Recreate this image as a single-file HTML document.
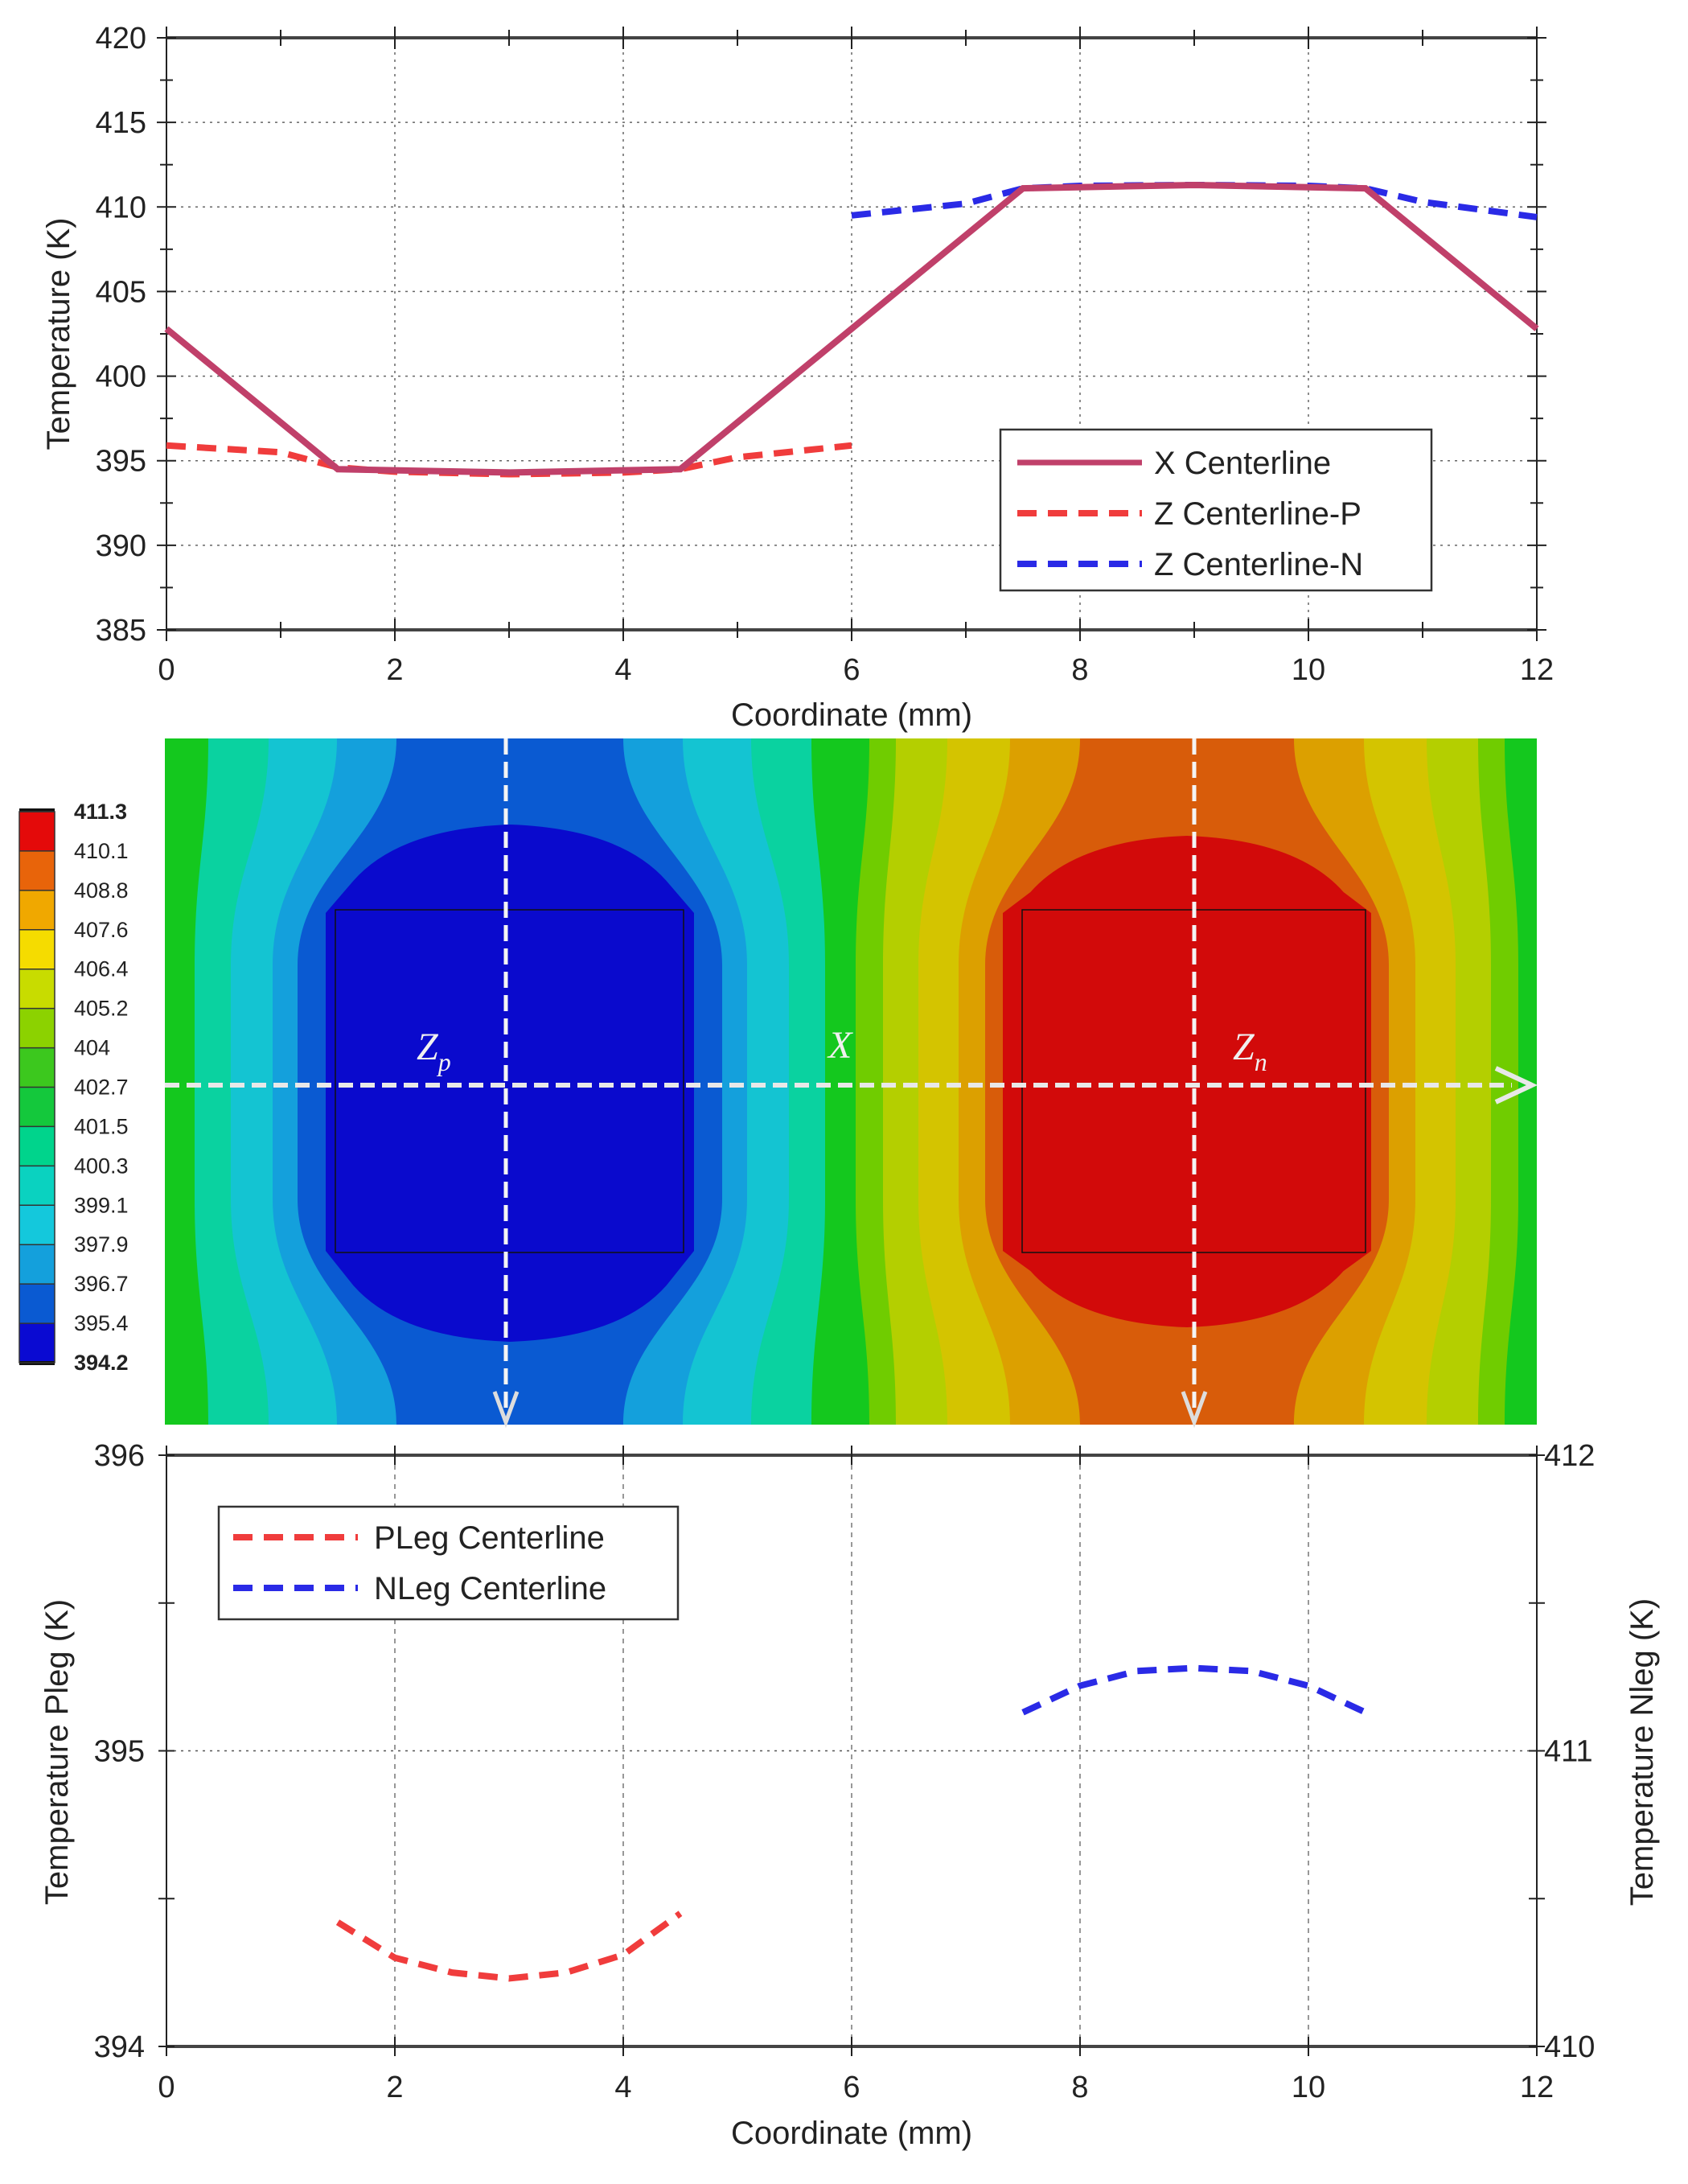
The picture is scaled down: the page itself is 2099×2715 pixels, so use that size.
<!DOCTYPE html>
<html><head><meta charset="utf-8"><style>
html,body{margin:0;padding:0;background:#fff;}
svg{display:block;font-family:"Liberation Sans",Arial,sans-serif;}
</style></head><body>
<svg id="fig" width="2099" height="2715" viewBox="0 0 2099 2715" xmlns="http://www.w3.org/2000/svg">
<g id="top"></g>
<g id="heat"></g>
<g id="bot"></g>
</svg>
<script>
const topXTicks=[0,2,4,6,8,10,12];
const topYTicks=[385,390,395,400,405,410,415,420];
const xCenterX=[0,1.5,3,4.5,7.5,9,10.5,12];
const xCenterT=[402.8,394.5,394.3,394.5,411.1,411.3,411.1,402.8];
const zpX=[0,1,1.5,2,3,4,4.5,5,6];
const zpT=[395.9,395.5,394.6,394.35,394.2,394.3,394.5,395.2,395.9];
const znX=[6,7,7.5,8,9,10,10.5,11,12];
const znT=[409.5,410.2,411.1,411.25,411.3,411.25,411.1,410.3,409.4];
const botYLeftTicks=[394,395,396];
const botYRightTicks=[410,411,412];
const plegX=[1.5,2,2.5,3,3.5,4,4.5];
const plegT=[394.42,394.3,394.25,394.23,394.25,394.31,394.45];
const nlegX=[7.5,8,8.5,9,9.5,10,10.5];
const nlegT=[411.13,411.22,411.27,411.28,411.27,411.22,411.13];
const cbLabels=["411.3","410.1","408.8","407.6","406.4","405.2","404","402.7","401.5","400.3","399.1","397.9","396.7","395.4","394.2"];
const cbColors=["#e40a0a","#e8640a","#f0a800","#f5dc00","#c8dc00","#8cd200","#3cc81e","#14c83c","#00d48c","#0ad2c0","#14c8dc","#14a0dc","#0a5ad2","#0a0ad2"];

const NS="http://www.w3.org/2000/svg";
function mk(parent,tag,attrs,text){const e=document.createElementNS(NS,tag);for(const k in attrs)e.setAttribute(k,attrs[k]);if(text!==undefined)e.textContent=text;parent.appendChild(e);return e;}

const X0=207,X1=1911;
const sx=v=>X0+(X1-X0)*v/12;

// ---------- TOP CHART ----------
(function(){
const g=document.getElementById('top');
const Y0=783,Y1=47;
const sy=v=>Y0+(Y1-Y0)*(v-385)/35;
topXTicks.forEach(t=>{if(t>0&&t<12){const l=mk(g,'line',{x1:sx(t),x2:sx(t),y1:Y1,y2:Y0,stroke:'#666','stroke-width':1.5,'stroke-dasharray':'3,6'});}});
topYTicks.forEach(t=>{if(t>385&&t<420){const l=mk(g,'line',{x1:X0,x2:X1,y1:sy(t),y2:sy(t),stroke:'#666','stroke-width':1.5,'stroke-dasharray':'3,6'});}});
mk(g,'line',{x1:X0,x2:X1,y1:Y1,y2:Y1,stroke:'#444','stroke-width':4});
mk(g,'line',{x1:X0,x2:X1,y1:Y0,y2:Y0,stroke:'#444','stroke-width':4});
mk(g,'line',{x1:X0,x2:X0,y1:Y1-10,y2:Y0+10,stroke:'#222','stroke-width':2});
mk(g,'line',{x1:X1,x2:X1,y1:Y1-10,y2:Y0+10,stroke:'#222','stroke-width':2});
for(let t=0;t<=12;t++){const len=t%2?10:14;
 mk(g,'line',{x1:sx(t),x2:sx(t),y1:Y0-len,y2:Y0+len,stroke:'#222','stroke-width':2});
 mk(g,'line',{x1:sx(t),x2:sx(t),y1:Y1-len,y2:Y1+len,stroke:'#222','stroke-width':2});}
for(let v=385;v<=420;v+=2.5){const len=(v%5)?8:12;
 mk(g,'line',{x1:X0-len,x2:X0+len,y1:sy(v),y2:sy(v),stroke:'#222','stroke-width':2});
 mk(g,'line',{x1:X1-len,x2:X1+len,y1:sy(v),y2:sy(v),stroke:'#222','stroke-width':2});}
topXTicks.forEach(t=>{const e=mk(g,'text',{x:sx(t),y:845,'font-size':38,'text-anchor':'middle',fill:'#222'},String(t));});
topYTicks.forEach(t=>{const e=mk(g,'text',{x:182,y:sy(t)+13,'font-size':38,'text-anchor':'end',fill:'#222'},String(t));});
let e=mk(g,'text',{x:0,y:0,'font-size':40,'text-anchor':'middle',fill:'#222',transform:'translate(86,415) rotate(-90)'},'Temperature (K)');

e=mk(g,'text',{x:1059,y:902,'font-size':40,'text-anchor':'middle',fill:'#222'},'Coordinate (mm)');

const pts=(xs,ys)=>xs.map((x,i)=>sx(x)+','+sy(ys[i])).join(' ');
e=mk(g,'polyline',{points:pts(zpX,zpT),fill:'none',stroke:'#f03c3c','stroke-width':8,'stroke-dasharray':'24,14'});

e=mk(g,'polyline',{points:pts(znX,znT),fill:'none',stroke:'#2a2ae6','stroke-width':8,'stroke-dasharray':'24,14'});

e=mk(g,'polyline',{points:pts(xCenterX,xCenterT),fill:'none',stroke:'#c0406a','stroke-width':8});

const lg=mk(g,'g',{});
mk(lg,'rect',{x:1244,y:534,width:536,height:200,fill:'#fff',stroke:'#333','stroke-width':2.5});
const items=[['X Centerline','#c0406a',null],['Z Centerline-P','#f03c3c','24,14'],['Z Centerline-N','#2a2ae6','24,14']];
items.forEach((it,i)=>{const y=575+i*63;const a={x1:1265,x2:1420,y1:y,y2:y,stroke:it[1],'stroke-width':it[2]?8:7};if(it[2])a['stroke-dasharray']=it[2];mk(lg,'line',a);
 const t=mk(lg,'text',{x:1435,y:y+14,'font-size':40,fill:'#222'},it[0]);});
})();

// ---------- HEATMAP ----------
(function(){
const g=document.getElementById('heat');
const HX0=205,HX1=1911,HY0=918,HY1=1771;
mk(g,'rect',{x:HX0,y:HY0,width:HX1-HX0,height:HY1-HY0,fill:'#14c81e'});
const cp=mk(g,'clipPath',{id:'hc'});mk(cp,'rect',{x:HX0,y:HY0,width:HX1-HX0,height:HY1-HY0});
const inner=mk(g,'g',{'clip-path':'url(#hc)'});
function band(cx,ht,hm,col){
 const d=`M${cx-ht},${HY0} L${cx+ht},${HY0} C${cx+ht},1040 ${cx+hm},1080 ${cx+hm},1200 L${cx+hm},1490 C${cx+hm},1610 ${cx+ht},1650 ${cx+ht},${HY1} L${cx-ht},${HY1} C${cx-ht},1650 ${cx-hm},1610 ${cx-hm},1490 L${cx-hm},1200 C${cx-hm},1080 ${cx-ht},1040 ${cx-ht},${HY0} Z`;
 mk(inner,'path',{d:d,fill:col});}
function core(cx,hw,yT,yB,col){
 const d=`M${cx},${yT} Q${cx+hw*0.6},${yT+5} ${cx+hw*0.85},${yT+70} L${cx+hw},1135 L${cx+hw},1555 L${cx+hw*0.85},${yB-70} Q${cx+hw*0.6},${yB-5} ${cx},${yB} Q${cx-hw*0.6},${yB-5} ${cx-hw*0.85},${yB-70} L${cx-hw},1555 L${cx-hw},1135 L${cx-hw*0.85},${yT+70} Q${cx-hw*0.6},${yT+5} ${cx},${yT} Z`;
 mk(inner,'path',{d:d,fill:col});}
band(634,375,392,'#0ad2a0');band(634,300,347,'#14c4d2');band(634,215,295,'#14a0dc');band(634,141,264,'#0a5ad2');
core(634,229,1025,1668,'#0a0acd');
band(1476,395,412,'#70cc00');band(1476,362,378,'#b4cf00');band(1476,298,334,'#d4c400');band(1476,220,284,'#dca000');band(1476,133,251,'#d85c0a');
core(1476,229,1039,1650,'#d20a0a');
let e=mk(g,'rect',{x:417,y:1131,width:433,height:426,fill:'none',stroke:'#111','stroke-width':1.5});
e=mk(g,'rect',{x:1271,y:1131,width:427,height:426,fill:'none',stroke:'#111','stroke-width':1.5});
const ac='#e8e8e8';
e=mk(g,'line',{x1:HX0,x2:1880,y1:1349,y2:1349,stroke:ac,'stroke-width':6,'stroke-dasharray':'18,9'});
mk(g,'path',{d:'M1860,1328 L1905,1349 L1860,1370',fill:'none',stroke:ac,'stroke-width':6});
[[629,'zp-centerline-arrow'],[1485,'zn-centerline-arrow']].forEach(a=>{
 const l=mk(g,'line',{x1:a[0],x2:a[0],y1:HY0,y2:1755,stroke:'#f4f4f4','stroke-width':5,'stroke-dasharray':'20,9'});
 mk(g,'path',{d:`M${a[0]-14},1730 L${a[0]},1768 L${a[0]+14},1730`,fill:'none',stroke:'#ddd','stroke-width':5});});
const lab=(x,y,t,s,n)=>{const tx=mk(g,'text',{x:x,y:y,'font-size':48,'font-style':'italic','font-family':'"Liberation Serif",serif',fill:'#f0f0f0'});
 tx.appendChild(document.createTextNode(t));if(s){mk(tx,'tspan',{'font-size':32,dy:14},s);}};
lab(518,1317,'Z','p','zp-label');lab(1030,1315,'X','','x-label');lab(1533,1317,'Z','n','zn-label');
const cb=mk(g,'g',{});
const CY0=1009,CY1=1694,n=cbColors.length,h=(CY1-CY0)/n;
mk(cb,'rect',{x:24,y:CY0-4,width:44,height:5,fill:'#111'});
cbColors.forEach((c,i)=>{mk(cb,'rect',{x:24,y:CY0+i*h,width:44,height:h,fill:c});
 mk(cb,'line',{x1:24,x2:68,y1:CY0+i*h,y2:CY0+i*h,stroke:'#333','stroke-width':1.5});});
mk(cb,'rect',{x:24,y:CY1-2,width:44,height:5,fill:'#111'});
mk(cb,'rect',{x:24,y:CY0,width:44,height:CY1-CY0,fill:'none',stroke:'#333','stroke-width':1.5});
cbLabels.forEach((t,i)=>{const y=CY0+i*(CY1-CY0)/(cbLabels.length-1);
 const tx=mk(cb,'text',{x:92,y:y+9,'font-size':27,fill:'#222','font-weight':(i==0||i==cbLabels.length-1)?'bold':'normal'},t);});
})();

// ---------- BOTTOM CHART ----------
(function(){
const g=document.getElementById('bot');
const Y0=2544,Y1=1809;
const sy=v=>Y0+(Y1-Y0)*(v-394)/2;
const sy2=v=>Y0+(Y1-Y0)*(v-410)/2;
topXTicks.forEach(t=>{if(t>0&&t<12){const l=mk(g,'line',{x1:sx(t),x2:sx(t),y1:Y1,y2:Y0,stroke:'#777','stroke-width':1.5,'stroke-dasharray':'6,6'});}});
let e=mk(g,'line',{x1:X0,x2:X1,y1:sy(395),y2:sy(395),stroke:'#555','stroke-width':1.5,'stroke-dasharray':'3,6'});
mk(g,'line',{x1:X0,x2:X1,y1:Y1,y2:Y1,stroke:'#444','stroke-width':4});
mk(g,'line',{x1:X0,x2:X1,y1:Y0,y2:Y0,stroke:'#444','stroke-width':4});
mk(g,'line',{x1:X0,x2:X0,y1:Y1-8,y2:Y0+12,stroke:'#222','stroke-width':2});
mk(g,'line',{x1:X1,x2:X1,y1:Y1-8,y2:Y0+12,stroke:'#222','stroke-width':2});
topXTicks.forEach(t=>{mk(g,'line',{x1:sx(t),x2:sx(t),y1:Y0-12,y2:Y0+12,stroke:'#222','stroke-width':2});mk(g,'line',{x1:sx(t),x2:sx(t),y1:Y1-12,y2:Y1+12,stroke:'#222','stroke-width':2});});
for(let v=394;v<=396;v+=0.5){mk(g,'line',{x1:X0-10,x2:X0+10,y1:sy(v),y2:sy(v),stroke:'#222','stroke-width':2});mk(g,'line',{x1:X1-10,x2:X1+10,y1:sy(v),y2:sy(v),stroke:'#222','stroke-width':2});}
topXTicks.forEach(t=>{const x=mk(g,'text',{x:sx(t),y:2607,'font-size':38,'text-anchor':'middle',fill:'#222'},String(t));});
botYLeftTicks.forEach(t=>{const x=mk(g,'text',{x:180,y:sy(t)+13,'font-size':38,'text-anchor':'end',fill:'#222'},String(t));});
botYRightTicks.forEach(t=>{const x=mk(g,'text',{x:1920,y:sy2(t)+13,'font-size':38,'text-anchor':'start',fill:'#222'},String(t));});
e=mk(g,'text',{x:0,y:0,'font-size':40,'text-anchor':'middle',fill:'#222',transform:'translate(84,2178) rotate(-90)'},'Temperature Pleg (K)');
e=mk(g,'text',{x:0,y:0,'font-size':40,'text-anchor':'middle',fill:'#222',transform:'translate(2055,2178) rotate(-90)'},'Temperature Nleg (K)');
e=mk(g,'text',{x:1059,y:2665,'font-size':40,'text-anchor':'middle',fill:'#222'},'Coordinate (mm)');
e=mk(g,'polyline',{points:plegX.map((x,i)=>sx(x)+','+sy(plegT[i])).join(' '),fill:'none',stroke:'#f03c3c','stroke-width':8,'stroke-dasharray':'24,14'});
e=mk(g,'polyline',{points:nlegX.map((x,i)=>sx(x)+','+sy2(nlegT[i])).join(' '),fill:'none',stroke:'#2a2ae6','stroke-width':8,'stroke-dasharray':'24,14'});
const lg=mk(g,'g',{});
mk(lg,'rect',{x:272,y:1873,width:571,height:140,fill:'#fff',stroke:'#333','stroke-width':2.5});
[['PLeg Centerline','#f03c3c'],['NLeg Centerline','#2a2ae6']].forEach((it,i)=>{const y=1911+i*63;
 mk(lg,'line',{x1:290,x2:445,y1:y,y2:y,stroke:it[1],'stroke-width':8,'stroke-dasharray':'24,14'});
 const t=mk(lg,'text',{x:465,y:y+14,'font-size':40,fill:'#222'},it[0]);});
})();
</script>
</body></html>
